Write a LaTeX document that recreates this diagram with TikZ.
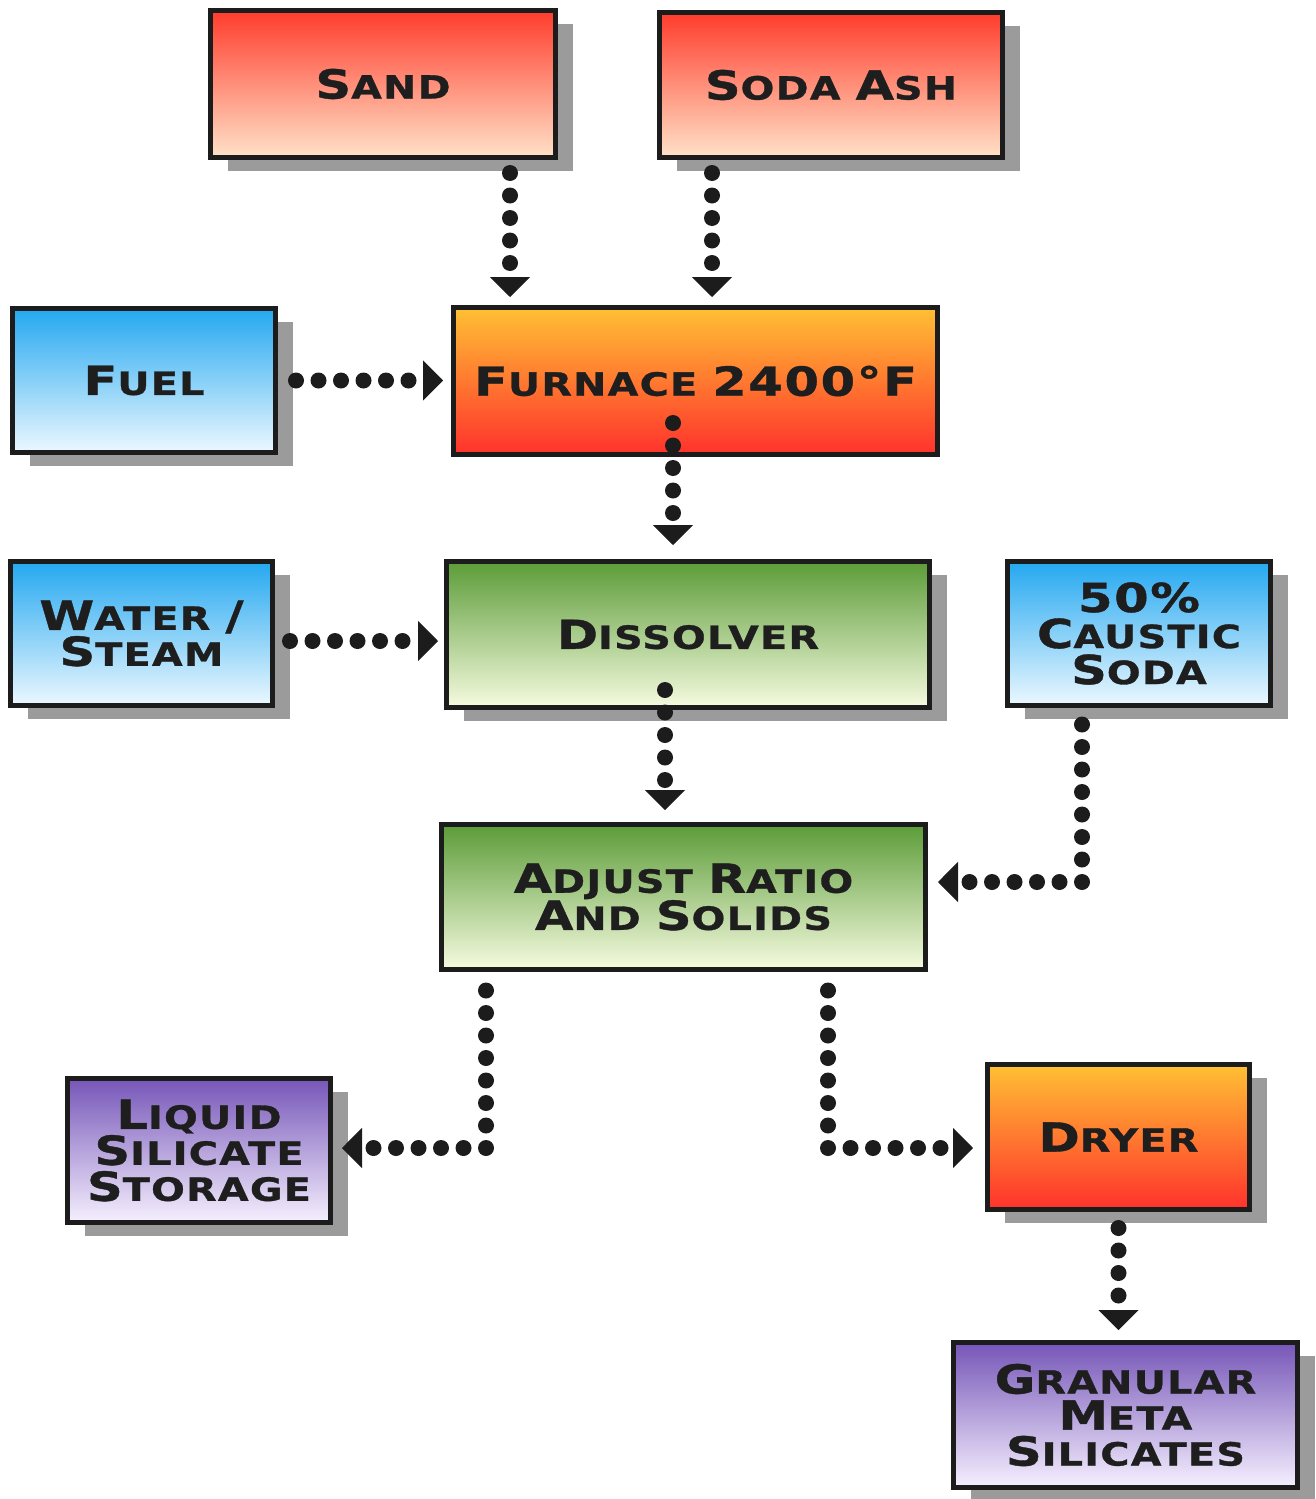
\documentclass[tikz,border=0pt]{standalone}
\usepackage{fontspec}
\newfontfamily\boxfont{DejaVu Sans Bold}[FakeStretch=1.24,FakeBold=1,LetterSpace=4]
\usetikzlibrary{arrows.meta,positioning,shadows}

\definecolor{boxline}{RGB}{28,28,28}
\definecolor{textdark}{RGB}{30,30,30}
\definecolor{shadowgray}{RGB}{155,155,155}
\definecolor{redtop}{RGB}{255,60,44}
\definecolor{redmid}{RGB}{255,96,72}
\definecolor{redbot}{RGB}{255,226,200}
\definecolor{hottop}{RGB}{255,192,52}
\definecolor{hotmid}{RGB}{255,108,46}
\definecolor{hotbot}{RGB}{255,50,44}
\definecolor{bluetop}{RGB}{36,168,240}
\definecolor{bluemid}{RGB}{86,190,248}
\definecolor{bluebot}{RGB}{236,248,255}
\definecolor{greentop}{RGB}{92,156,56}
\definecolor{greenmid}{RGB}{128,184,80}
\definecolor{greenbot}{RGB}{246,251,224}
\definecolor{purpletop}{RGB}{118,86,184}
\definecolor{purplemid}{RGB}{164,138,216}
\definecolor{purplebot}{RGB}{246,240,255}

\newcommand{\capL}[1]{{\fontsize{40}{36}\selectfont #1}}
\newcommand{\scword}[2]{\capL{#1}#2}

\begin{document}
\begin{tikzpicture}[x=1pt,y=-1pt,
    box/.style={draw=boxline, line width=5pt, align=center, text=textdark,
      inner sep=0pt, font=\boxfont\fontsize{32}{36}\selectfont},
    shadowed/.style={general shadow={shadow xshift=17pt, shadow yshift=-13pt, fill=shadowgray}},
    rawbox/.style={box, shadowed, top color=redtop, middle color=redmid, bottom color=redbot},
    hotbox/.style={box, top color=hottop, middle color=hotmid, bottom color=hotbot},
    feedbox/.style={box, shadowed, top color=bluetop, middle color=bluemid, bottom color=bluebot},
    procbox/.style={box, top color=greentop, middle color=greenmid, bottom color=greenbot},
    prodbox/.style={box, shadowed, top color=purpletop, middle color=purplemid, bottom color=purplebot},
    flow/.style={draw=boxline, line width=16pt, line cap=round, dash pattern=on 0pt off 22.5pt,
      -{Triangle[width=40pt,length=20pt,line width=1pt]}}]
  \useasboundingbox (0,0) rectangle (1315,1499);

  % raw materials
  \node[rawbox, minimum width=345pt, minimum height=147pt] (sand) at (383,84) {\scword{S}{AND}};
  \node[rawbox, minimum width=343pt, minimum height=145pt] (soda) at (831,85) {\scword{S}{ODA} \scword{A}{SH}};
  \node[feedbox, minimum width=263pt, minimum height=144pt] (fuel) at (144,380.5) {\scword{F}{UEL}};
  \node[hotbox, minimum width=484pt, minimum height=147pt] (furnace) at (695.5,381) {\scword{F}{URNACE} \capL{2400°F}};

  % dissolving
  \node[feedbox, minimum width=262pt, minimum height=144pt] (water) at (141.5,633.5) {\scword{W}{ATER} \capL{/}\\\scword{S}{TEAM}};
  \node[procbox, shadowed, minimum width=483pt, minimum height=146pt] (dissolver) at (688,634.5) {\scword{D}{ISSOLVER}};
  \node[feedbox, minimum width=263pt, minimum height=144pt] (caustic) at (1139,633.5) {\capL{50\%}\\\scword{C}{AUSTIC}\\\scword{S}{ODA}};
  \node[procbox, minimum width=484pt, minimum height=145pt] (adjust) at (683.5,897) {\scword{A}{DJUST} \scword{R}{ATIO}\\\scword{A}{ND} \scword{S}{OLIDS}};

  % products
  \node[prodbox, minimum width=263pt, minimum height=144pt] (liquid) at (199,1150.5) {\scword{L}{IQUID}\\\scword{S}{ILICATE}\\\scword{S}{TORAGE}};
  \node[hotbox, shadowed, minimum width=262pt, minimum height=145pt] (dryer) at (1118.5,1137) {\scword{D}{RYER}};
  \node[prodbox, minimum width=344pt, minimum height=145pt] (granular) at (1125.5,1415) {\scword{G}{RANULAR}\\\scword{M}{ETA}\\\scword{S}{ILICATES}};

  \draw[flow, shorten <=13pt, shorten >=8pt] ([xshift=127pt]sand.south) -- ([xshift=-185.5pt]furnace.north);
  \draw[flow, shorten <=13pt, shorten >=8pt] ([xshift=-119pt]soda.south) -- ([xshift=16.5pt]furnace.north);
  \draw[flow, shorten <=18pt, shorten >=8pt] (fuel.east) -- (fuel.east -| furnace.west);
  \draw[flow, shorten >=14pt] ([xshift=-22.5pt,yshift=-42pt]furnace.center) -- ([xshift=-15pt]dissolver.north);
  \draw[flow, shorten <=15pt, shorten >=6pt] ([yshift=-7.5pt]water.east) -- ([yshift=-7.5pt]water.east -| dissolver.west);
  \draw[flow, shorten >=12pt] ([xshift=-23pt,yshift=-55.5pt]dissolver.center) -- ([xshift=-18.5pt]adjust.north);
  \draw[flow, shorten <=16.5pt, shorten >=10pt] ([xshift=-57pt]caustic.south) |- ([yshift=15pt]adjust.east);
  \draw[flow, shorten <=18.5pt, shorten >=9pt] ([xshift=-197.5pt]adjust.south) |- ([yshift=2.5pt]liquid.east);
  \draw[flow, shorten <=18.5pt, shorten >=12pt] ([xshift=144.5pt]adjust.south) |- ([yshift=-11pt]dryer.west);
  \draw[flow, shorten <=16pt, shorten >=10pt] (dryer.south) -- (dryer.south |- granular.north);
\end{tikzpicture}
\end{document}
